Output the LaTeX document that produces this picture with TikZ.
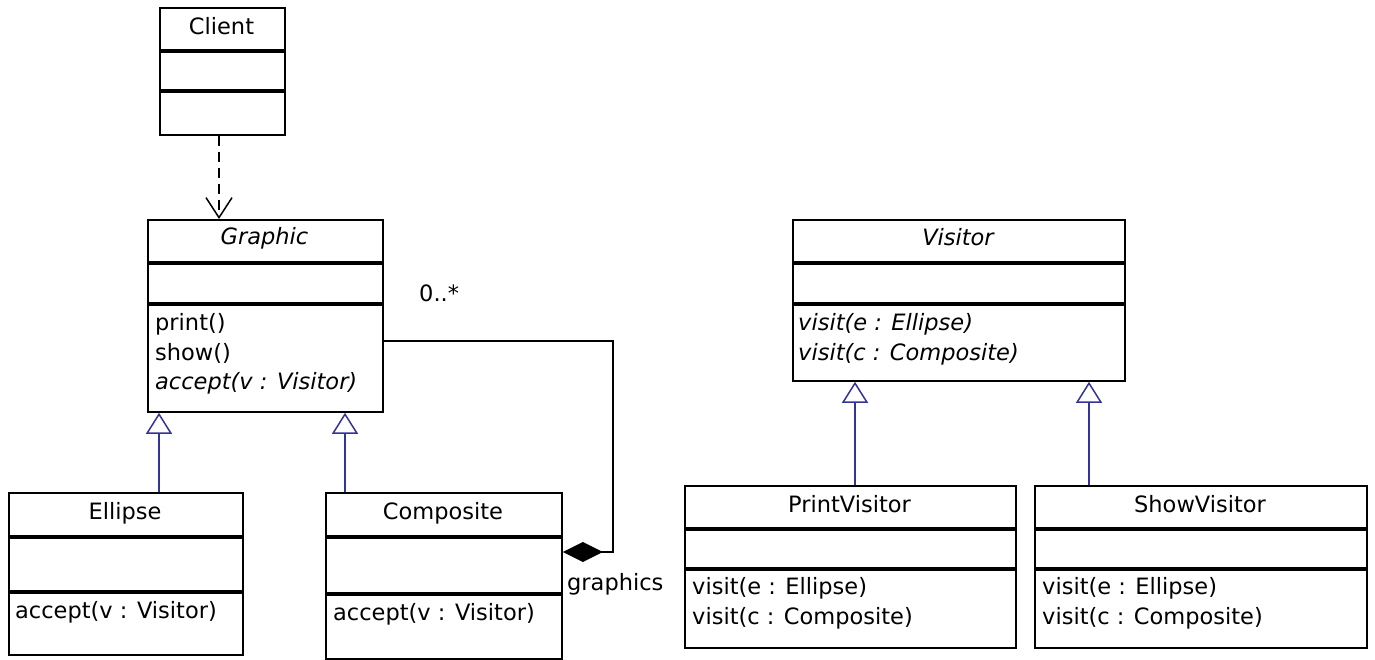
\documentclass[tikz,border=0pt]{standalone}
\usepackage{fontspec}
\setmainfont{DejaVu Sans}
\usetikzlibrary{arrows.meta}
\definecolor{genblue}{RGB}{51,51,153}
\tikzset{
  cls/.style={draw, line width=1.8pt, inner sep=0pt, anchor=north west},
  sepline/.style={line width=3.4pt},
  txt/.style={inner sep=0pt, anchor=base west, yshift=-2pt, font=\fontsize{22.5}{27}\selectfont},
  ttl/.style={inner sep=0pt, anchor=base, yshift=-2pt, font=\fontsize{22.5}{27}\selectfont},
  gen/.style={draw=genblue, line width=1.5pt, -{Triangle[open,length=21pt,width=26pt,line width=1.5pt]}},
  dep/.style={dash pattern=on 10pt off 6pt, line width=1.5pt, -{Straight Barb[length=20pt,width=26pt,line width=1.5pt]}},
  compo/.style={line width=1.5pt, -{Diamond[length=40pt,width=20pt,fill=black]}},
}
\begin{document}
\begin{tikzpicture}[x=1pt,y=-1pt]
\path[use as bounding box] (0,0) rectangle (1375,659);

% Client
\node[cls, minimum width=125pt, minimum height=127pt] (client) at (159,7) {};
\draw[sepline] (client.west |- 0,51) -- (client.east |- 0,51);
\draw[sepline] (client.west |- 0,91) -- (client.east |- 0,91);
\node[ttl] (clientT) at (221.5,32) {Client};

% Graphic
\node[cls, minimum width=235pt, minimum height=192pt] (graphic) at (147,219) {};
\draw[sepline] (graphic.west |- 0,263) -- (graphic.east |- 0,263);
\draw[sepline] (graphic.west |- 0,304) -- (graphic.east |- 0,304);
\node[ttl] (graphicT) at (264.5,242) {\itshape Graphic};
\node[txt] (g1) at (155,328) {print()};
\node[txt] (g2) at (155,358) {show()};
\node[txt] (g3) at (155,387) {\itshape accept(v : Visitor)};

% Ellipse
\node[cls, minimum width=234pt, minimum height=162pt] (ellipse) at (8,492) {};
\draw[sepline] (ellipse.west |- 0,537) -- (ellipse.east |- 0,537);
\draw[sepline] (ellipse.west |- 0,592) -- (ellipse.east |- 0,592);
\node[ttl] (ellipseT) at (125,517) {Ellipse};
\node[txt] (e1) at (15,616) {accept(v : Visitor)};

% Composite
\node[cls, minimum width=236pt, minimum height=166pt] (composite) at (325,492) {};
\draw[sepline] (composite.west |- 0,537) -- (composite.east |- 0,537);
\draw[sepline] (composite.west |- 0,594) -- (composite.east |- 0,594);
\node[ttl] (compositeT) at (443,517) {Composite};
\node[txt] (c1) at (333,618) {accept(v : Visitor)};

% Visitor
\node[cls, minimum width=332pt, minimum height=161pt] (visitor) at (792,219) {};
\draw[sepline] (visitor.west |- 0,263) -- (visitor.east |- 0,263);
\draw[sepline] (visitor.west |- 0,304) -- (visitor.east |- 0,304);
\node[ttl] (visitorT) at (958,243) {\itshape Visitor};
\node[txt] (v1) at (798,328) {\itshape visit(e : Ellipse)};
\node[txt] (v2) at (798,358) {\itshape visit(c : Composite)};

% PrintVisitor
\node[cls, minimum width=331pt, minimum height=162pt] (pv) at (684,485) {};
\draw[sepline] (pv.west |- 0,529) -- (pv.east |- 0,529);
\draw[sepline] (pv.west |- 0,569) -- (pv.east |- 0,569);
\node[ttl] (pvT) at (849.5,510) {PrintVisitor};
\node[txt] (pv1) at (692,592) {visit(e : Ellipse)};
\node[txt] (pv2) at (692,622) {visit(c : Composite)};

% ShowVisitor
\node[cls, minimum width=332pt, minimum height=162pt] (sv) at (1034,485) {};
\draw[sepline] (sv.west |- 0,529) -- (sv.east |- 0,529);
\draw[sepline] (sv.west |- 0,569) -- (sv.east |- 0,569);
\node[ttl] (svT) at (1200,510) {ShowVisitor};
\node[txt] (sv1) at (1042,592) {visit(e : Ellipse)};
\node[txt] (sv2) at (1042,622) {visit(c : Composite)};

% connector helper coordinates
\coordinate (xdep) at (219,0);
\coordinate (xe) at (159,0);
\coordinate (xc) at (345,0);
\coordinate (xpv) at (855,0);
\coordinate (xsv) at (1089,0);
\coordinate (bend1) at (613,341);
\coordinate (bend2) at (613,552);

% dependency
\draw[dep] (xdep |- client.south) -- (xdep |- graphic.north);

% generalizations
\draw[gen] (xe |- ellipse.north) -- (xe |- graphic.south);
\draw[gen] (xc |- composite.north) -- (xc |- graphic.south);
\draw[gen] (xpv |- pv.north) -- (xpv |- visitor.south);
\draw[gen] (xsv |- sv.north) -- (xsv |- visitor.south);

% composition
\draw[compo] (graphic.east |- bend1) -- (bend1) -- (bend2) -- (composite.east |- bend2);
\node[txt] (mult) at (419,299) {0..*};
\node[txt] (role) at (567,588) {graphics};
\end{tikzpicture}
\end{document}
